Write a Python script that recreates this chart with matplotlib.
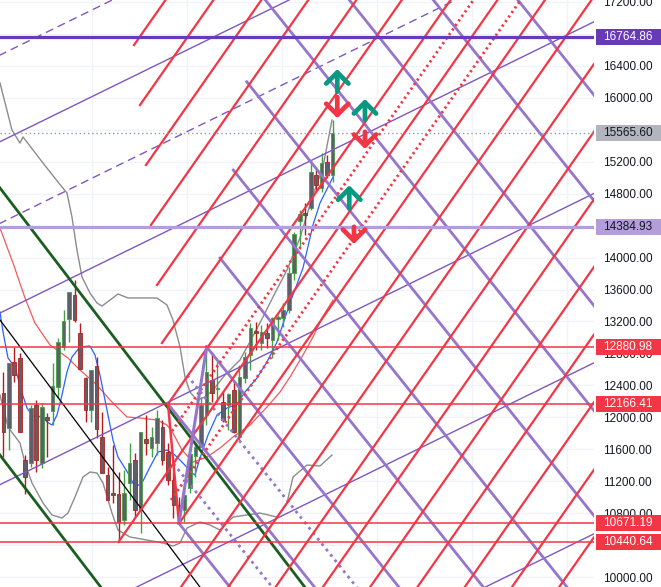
import matplotlib.pyplot as plt
import matplotlib.transforms as mtransforms
import numpy as np

plt.rcParams['font.family'] = ['Liberation Sans', 'DejaVu Sans']

# ---- candles (bar index = position) ----
opens = [12304, 11866, 12692, 12742, 11465, 11427, 12154, 11427, 12004, 12079,
         12379, 12880, 13231, 13531, 13055, 12492, 12091, 12642, 11753, 11277,
         11052, 11039, 10714, 11177, 11465, 10839, 11728, 11615, 11678, 11878,
         11565, 11215, 10902, 10839, 11114, 11515, 11628, 12029, 12467, 12354,
         12191, 12154, 12342, 11753, 12492, 12780, 13080, 12930, 13055, 12968,
         13231, 13243, 13343, 13807, 14458, 14558, 14621, 15034, 14871, 15197,
         15034]
highs = [12567, 12680, 12880, 12805, 11527, 12154, 12216, 12179, 12054, 12680,
         12993, 13343, 13569, 13719, 13180, 12504, 12592, 12755, 12066, 11377,
         11653, 11315, 11340, 11678, 11553, 11816, 12029, 11878, 12091, 11966,
         11678, 11315, 11002, 11089, 11540, 11678, 12254, 12880.98, 12817, 12692,
         12317, 12304, 12467, 12655, 12817, 13180, 13193, 13155, 13180, 13256,
         13281, 13431, 13882, 14320, 14596, 14683, 15222, 15134, 15309, 15284,
         15722]
lows = [11502, 11590, 12442, 11816, 11039, 11377, 11315, 11365, 11502, 11903,
        12241, 12842, 12943, 13193, 12605, 11941, 11941, 11740, 11302, 10964,
        10927, 10440.64, 10651, 10964, 10751, 10551, 11527, 11502, 11527, 11402,
        11152, 10739, 10671.19, 10689, 11052, 11252, 11628, 11903, 12191, 12191,
        11941, 11841, 11803, 11715, 12429, 12592, 12842, 12842, 12868, 12742,
        12968, 13130, 13306, 13719, 14132, 14282, 14596, 14821, 14821, 14996,
        14946]
closes = [11816, 12680, 12529, 11816, 11252, 12116, 11465, 12129, 11966, 12392,
          12943, 13206, 13569, 13218, 12605, 12091, 12592, 11853, 11302, 10964,
          11027, 10689, 11052, 11427, 10839, 11816, 11678, 11753, 11991, 11465,
          11215, 10902, 10839, 11027, 11540, 11628, 12154, 12567, 12304, 12367,
          11966, 12292, 11816, 12504, 12755, 13118, 13055, 13068, 12993, 13243,
          13256, 13343, 13807, 14295, 14545, 14533, 15071, 14908, 15184, 15034,
          15565.60]

# ---- indicator lines (bar, price) ----
bb_up_x = [-0.6, 1.58, 3.04, 3.59, 5.41, 7.23, 9.96, 11.6, 12.51, 13.42, 14.34, 15.79,
           17.07, 17.98, 19.44, 20.89, 22.71, 25.45, 27.99, 29.82, 30.91, 32.19, 33.1,
           34.01, 35.28, 36.74, 38.2, 40.38, 43.11, 45.3, 47.3, 49.49, 51.68, 54.04,
           56.41, 58.23, 59.87]
bb_up_y = [16186, 15597, 15434, 15510, 15347, 15184, 14946, 14808, 14508, 14094, 13756, 13556,
           13431, 13393, 13468, 13544, 13494, 13494, 13494, 13406, 13218, 12880, 12504,
           12316, 12216, 12254, 12341, 12529, 12717, 12993, 13256, 13556, 13844, 14245,
           14783, 15134, 15722]
bb_lo_x = [-0.6, 0.86, 3.04, 3.95, 5.23, 7.23, 8.87, 10.69, 11.78, 13.06, 14.52, 15.79,
           17.07, 18.16, 19.8, 20.89, 23.08, 26.18, 29.09, 30.91, 32.19, 33.46, 35.83,
           37.65, 39.47, 41.84, 46.76, 49.85, 51.68, 52.77, 55.32, 57.69, 59.87]
bb_lo_y = [12279, 11878, 11678, 11427, 11177, 10927, 10776, 10739, 10801, 11002, 11252, 11315,
           11302, 11177, 10801, 10588, 10501, 10463, 10426, 10388, 10426, 10613, 10689,
           10651, 10588, 10751, 10801, 10751, 10927, 11252, 11402, 11390, 11527]
ma_x = [-0.6, 1.77, 3.95, 5.77, 8.51, 11.78, 13.97, 17.07, 19.44, 20.71, 22.53, 24.9,
        27.99, 29.82, 30.91, 32.55, 34.55, 37.1, 39.47, 41.84, 44.94, 48.03, 50.4,
        52.22, 54.59, 56.41, 58.05, 60.05]
ma_y = [14370, 13932, 13494, 13180, 12905, 12742, 12592, 12404, 12216, 12129, 12004, 11991,
        11966, 11903, 11803, 11590, 11440, 11502, 11615, 11753, 11903, 12129, 12316,
        12504, 12780, 13005, 13243, 13468]
ema_x = [-0.6, -0.05, 0.86, 2.13, 3.41, 4.32, 5.23, 6.14, 7.05, 7.96, 8.87, 9.78, 10.69,
         11.6, 12.51, 13.97, 15.79, 16.7, 17.61, 18.89, 19.98, 20.89, 22.71, 23.99, 25.26,
         26.72, 28.18, 29.82, 31.27, 32.73, 34.37, 34.92, 35.83, 37.29, 38.93, 40.75,
         42.57, 44.03, 46.21, 48.03, 49.85, 52.22, 54.59, 56.41, 57.69, 59.15, 60.06]
ema_y = [13318, 13068, 12742, 12630, 12304, 12116, 12028, 11991, 12028, 11941, 11903, 12028,
         12279, 12567, 12755, 12880, 12893, 12780, 12529, 12091, 11715, 11502, 11302, 11127,
         11177, 11377, 11565, 11590, 11527, 11427, 11302, 11277, 11490, 11778, 12028, 12116,
         12166, 12316, 12492, 12692, 12943, 13431, 13869, 14408, 14683, 14883, 15009]

# ---- drawings ----
levels = [16764.86, 15565.60, 14384.93, 12880.98, 12166.41, 10671.19, 10440.64]
level_colors = ['#673ab7', '#9598a1', '#b39ddb', '#f23645', '#f23645', '#f23645', '#f23645']
label_bg = ['#673ab7', '#b2b5be', '#b39ddb', '#f23645', '#f23645', '#f23645', '#f23645']
label_fg = ['white', '#131722', '#131722', 'white', 'white', 'white', 'white']

red_slope = 98.3
red_starts = [(23.81, 16661), (24.90, 15910), (25.99, 15159), (26.90, 14408), (28.0, 13656),
              (28.9, 12930), (30.0, 12166.41), (21.0, 10440.64), (32.0, 10671.19),
              (31.61, 9800), (40.22, 9800), (48.84, 9800), (57.45, 9800), (66.07, 9800),
              (74.68, 9800), (83.3, 9800), (91.9, 9800), (100.5, 9800)]
red_dotted_starts = [(30.73, 11828), (30.55, 10964)]

purple_slope = -85.9
purple_starts = [(44.33, 16202), (41.89, 15096), (39.47, 13994), (37.05, 12880.98),
                 (30.0, 12166.41), (32.0, 10671.19),
                 (45.7, 17400), (61.0, 17400), (76.3, 17400), (91.7, 17400)]
purple_dotted_starts = [(31.0, 11419), (33.5, 12524)]

chan_slope = 33.7
chan_solid = [15471, 13326, 11177, 9056, 6915]
chan_dashed = [16556, 14449]

green_slope = -90.0
green_icpt = [14817, 11472]
black_slope = -91.8
black_icpt = 13163

up_x = [60.84, 65.88, 63.02]
up_from = [16080, 15730, 14615]
up_to = [16360, 15985, 14905]
dn_x = [60.84, 65.88, 63.88]
dn_from = [16010, 15575, 14385]
dn_to = [15745, 15360, 14170]

yticks = np.arange(10000, 17201, 400)
vgrid = [16.2, 33.5, 50.8, 68.1, 85.3, 102.6]

# ---- figure ----
fig = plt.figure(figsize=(6.61, 5.87), dpi=100)
ax = fig.add_axes([0, 0, 594 / 661, 1])
ax.set_xlim(-0.6, 107.6)
ax.set_ylim(9875, 17225)

for y in yticks:
    ax.axhline(y, color='#f0f3fa', lw=1, zorder=0)
for x in vgrid:
    ax.axvline(x, color='#f0f3fa', lw=1, zorder=0)

# indicators
ax.plot(bb_up_x, bb_up_y, color='#8c8c8c', lw=1, zorder=2)
ax.plot(bb_lo_x, bb_lo_y, color='#8c8c8c', lw=1, zorder=2)
ax.plot(ma_x, ma_y, color='#f05a5a', lw=0.9, zorder=2)
ax.plot(ema_x, ema_y, color='#2962ff', lw=0.9, zorder=2)

# candles
idx = np.arange(len(opens))
for i in idx:
    up = closes[i] >= opens[i]
    wc = '#43a047' if up else '#b71c1c'
    ax.vlines(i, lows[i], highs[i], color=wc, lw=1, zorder=3)
    lo, hi = min(opens[i], closes[i]), max(opens[i], closes[i])
    ax.bar(i, max(hi - lo, 12), bottom=lo, width=0.65, color='#5d6068',
           edgecolor=wc, linewidth=0.6, zorder=3.5)

X_END = 200


def ray(x0, y0, slope, **kw):
    ax.plot([x0, X_END], [y0, y0 + slope * (X_END - x0)], **kw)


def full(icpt, slope, **kw):
    xs = np.array([-50, X_END])
    ax.plot(xs, icpt + slope * xs, **kw)


for b in chan_solid:
    full(b, chan_slope, color='#7e57c2', lw=1, zorder=4)
for b in chan_dashed:
    full(b, chan_slope, color='#7e57c2', lw=1, ls=(0, (5.8, 3.6)), zorder=4)

for b in green_icpt:
    full(b, green_slope, color='#1b5e20', lw=2, zorder=4)
full(black_icpt, black_slope, color='black', lw=0.9, zorder=4)

for x0, y0 in purple_starts:
    ray(x0, y0, purple_slope, color='#9575cd', lw=2, zorder=4)
for x0, y0 in purple_dotted_starts:
    ray(x0, y0, purple_slope, color='#9575cd', lw=2, ls=(0, (1, 1.5)), zorder=4)

for x0, y0 in red_starts:
    ray(x0, y0, red_slope, color='#f23645', lw=1.6, zorder=4.2)
for x0, y0 in red_dotted_starts:
    ray(x0, y0, red_slope, color='#f23645', lw=2, ls=(0, (0.8, 1.2)), zorder=4.2)

ax.plot([30.0, 32.0], [12166.41, 10671.19], color='#f23645', lw=1.8, zorder=4.3)
ax.plot([32.0, 37.05], [10671.19, 12880.98], color='#9575cd', lw=2.2, zorder=4.3)

# horizontal levels
for lv, col in zip(levels, level_colors):
    if lv == 15565.60:
        ax.axhline(lv, color=col, lw=1, ls=(0, (1, 2)), zorder=4.4)
    elif col == '#f23645':
        ax.axhline(lv, color=col, lw=1.1, zorder=4.4)
    else:
        ax.axhline(lv, color=col, lw=2.3, zorder=4.4)

# arrows
arrow_style = '->,head_length=0.4,head_width=0.4'
for x, a, b in zip(up_x, up_from, up_to):
    ax.annotate('', xy=(x, b), xytext=(x, a),
                arrowprops=dict(arrowstyle=arrow_style, color='#089981', lw=3.4,
                                mutation_scale=20, shrinkA=0, shrinkB=0), zorder=6)
for x, a, b in zip(dn_x, dn_from, dn_to):
    ax.annotate('', xy=(x, b), xytext=(x, a),
                arrowprops=dict(arrowstyle=arrow_style, color='#f23645', lw=3.4,
                                mutation_scale=20, shrinkA=0, shrinkB=0), zorder=6)

# price scale
ax.yaxis.tick_right()
ax.set_yticks(yticks)
ax.set_yticklabels([f'{v:.2f}' for v in yticks])
ax.tick_params(axis='y', length=0, pad=6.5, labelsize=8.5, labelcolor='#131722')
ax.set_xticks([])
for s in ax.spines.values():
    s.set_visible(False)

trans = mtransforms.blended_transform_factory(ax.transAxes, ax.transData)
for lv, bg, fg in zip(levels, label_bg, label_fg):
    ax.add_patch(plt.Rectangle((1.0034, lv - 100), 0.112, 200, transform=trans,
                               facecolor=bg, edgecolor='none', clip_on=False, zorder=7))
    ax.text(1.0152, lv, f'{lv:.2f}', transform=trans, color=fg, fontsize=8.5,
            va='center', ha='left', clip_on=False, zorder=8)

fig.savefig('out.png', dpi=100)
